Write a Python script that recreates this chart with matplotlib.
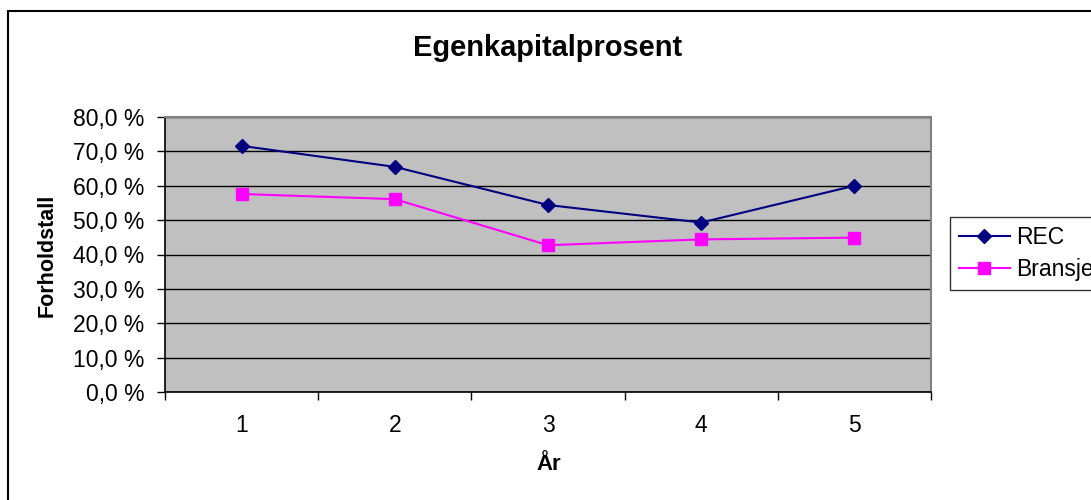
import matplotlib.pyplot as plt
from matplotlib.patches import Rectangle
from matplotlib.ticker import FuncFormatter, MultipleLocator

plt.rcParams['font.family'] = ['Liberation Sans', 'DejaVu Sans']

years = [1, 2, 3, 4, 5]
rec = [71.6, 65.5, 54.4, 49.3, 60.0]
bransje = [57.6, 56.1, 42.7, 44.4, 44.9]
y_ticks = [0, 10, 20, 30, 40, 50, 60, 70, 80]

fig = plt.figure(figsize=(10.91, 5.0), dpi=100)
ax = fig.add_axes([165 / 1091, 108 / 500, 766 / 1091, 275 / 500])

# chart frame (runs off the right and bottom edges)
fig.patches.append(Rectangle((8 / 1091, -0.2), 1.2, 0.2 + 1 - 11 / 500,
                             transform=fig.transFigure, fill=False,
                             edgecolor='black', linewidth=1.5, clip_on=False))

ax.set_facecolor('#C0C0C0')
ax.plot(years, rec, color='#000080', marker='D', markersize=7, linewidth=1.5, label='REC')
ax.plot(years, bransje, color='#FF00FF', marker='s', markersize=8, linewidth=1.5, label='Bransje')

ax.set_xlim(0.5, 5.5)
ax.set_ylim(0, 80)
ax.set_yticks(y_ticks)
ax.yaxis.set_major_formatter(FuncFormatter(lambda v, p: f'{v:.1f} %'.replace('.', ',')))
ax.set_xticks(years)
ax.xaxis.set_minor_locator(MultipleLocator(1, offset=0.5))
ax.tick_params(axis='x', which='major', length=0, pad=16, labelsize=16.5)
ax.tick_params(axis='x', which='minor', length=6, width=1, color='black')
ax.tick_params(axis='y', length=6, width=1, labelsize=16.5, pad=9)
ax.grid(axis='y', color='black', linewidth=1)
ax.set_axisbelow(True)

for side in ['left', 'bottom']:
    ax.spines[side].set_color('black')
    ax.spines[side].set_linewidth(1.2)
for side in ['top', 'right']:
    ax.spines[side].set_color('#808080')
    ax.spines[side].set_linewidth(1.5)

fig.text(548 / 1091, 1 - 48 / 500, 'Egenkapitalprosent', fontsize=20.9,
         fontweight='bold', ha='center', va='center')
fig.text(47 / 1091, 1 - 255 / 500, 'Forholdstall', fontsize=15.5,
         fontweight='bold', ha='center', va='center', rotation=90)
fig.text(549 / 1091, 1 - 465 / 500, 'År', fontsize=16,
         fontweight='bold', ha='center', va='center')

leg = fig.legend(loc='upper left', bbox_to_anchor=(950 / 1091, 1 - 217 / 500),
                 frameon=True, fancybox=False, edgecolor='black', fontsize=16.5,
                 handlelength=2.2, borderaxespad=0, handletextpad=0.3,
                 labelspacing=0.4, borderpad=0.4)
leg.get_frame().set_linewidth(1)

fig.savefig('out.png', dpi=100)
